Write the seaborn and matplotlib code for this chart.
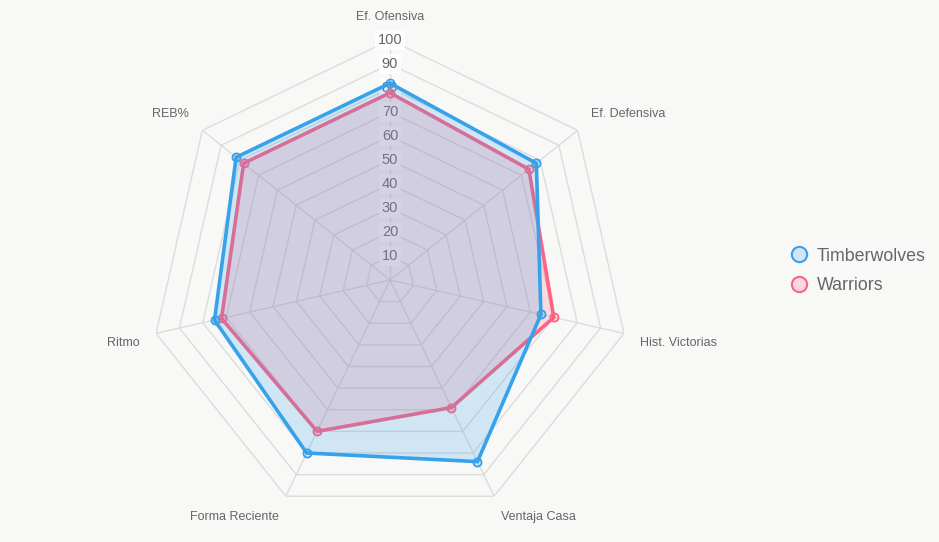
import numpy as np
import pandas as pd
import matplotlib
matplotlib.use("Agg")
from matplotlib import pyplot as plt
from matplotlib.lines import Line2D
import seaborn as sns

categories = ["Ef. Ofensiva", "Ef. Defensiva", "Hist. Victorias", "Ventaja Casa",
              "Forma Reciente", "Ritmo", "REB%"]
timberwolves = [82, 78, 64.5, 84, 80, 75, 82]
warriors = [78, 74, 70, 59, 70, 72, 78]
ticks = [10, 20, 30, 40, 50, 60, 70, 80, 90, 100]

sns.set_theme(style="white")
plt.rcParams['font.family'] = ['Liberation Sans', 'DejaVu Sans']

bg = "#f8f8f7"
blue = "#36a2eb"
pink = "#ff6384"

fig = plt.figure(figsize=(9.39, 5.42), dpi=100, facecolor=bg)
ax = fig.add_axes([150 / 939, 22 / 542, 480 / 939, 480 / 542], projection="polar")
ax.set_facecolor("none")
ax.set_theta_zero_location("N")
ax.set_theta_direction(-1)
ax.axis("off")
ax.set_ylim(0, 100)

n = len(categories)
theta = np.arange(n) * 2 * np.pi / n
theta_c = np.append(theta, theta[0])

# polygon grid + spokes
for t in ticks:
    ax.plot(theta_c, [t] * (n + 1), color="#dcdcdc", lw=1, zorder=1)
for th in theta:
    ax.plot([th, th], [0, 100], color="#dcdcdc", lw=1, zorder=1)

# tick labels with backdrop
for t in ticks:
    ax.text(0, t, str(t), ha="center", va="center", fontsize=10.5, color="#666666",
            zorder=2, bbox=dict(boxstyle="square,pad=0.2", fc="white", ec="none", alpha=0.85))

# category labels
for th, lab in zip(theta, categories):
    s, c = np.sin(th), np.cos(th)
    ha = "center" if abs(s) < 0.05 else ("left" if s > 0 else "right")
    va = "bottom" if c > 0.05 else "top"
    ax.text(th, 107, lab, ha=ha, va=va, fontsize=9, color="#666666", clip_on=False)

rows = []
for team, vals in [("Warriors", warriors), ("Timberwolves", timberwolves)]:
    for th, v in zip(theta, vals):
        rows.append({"team": team, "theta": th, "value": v})
df = pd.DataFrame(rows)

z = 3
for team, vals, col in [("Warriors", warriors, pink), ("Timberwolves", timberwolves, blue)]:
    vc = np.append(vals, vals[0])
    ax.fill(theta_c, vc, color=col, alpha=0.2, lw=0, zorder=z)
    ax.plot(theta_c, vc, color=col, lw=2.6, zorder=z + 1)
    sub = df[df.team == team]
    sns.scatterplot(data=sub, x="theta", y="value", ax=ax, s=34,
                    facecolor=matplotlib.colors.to_rgba(col, 0.2), edgecolor=col,
                    linewidth=1.3, zorder=z + 2, legend=False)
    z += 3

ax.set_xlabel("")
ax.set_ylabel("")
ax.axis("off")
ax.set_ylim(0, 100)

handles = [
    Line2D([], [], marker="o", ls="none", markersize=11, markeredgewidth=1.5,
           markerfacecolor=matplotlib.colors.to_rgba(blue, 0.2), markeredgecolor=blue),
    Line2D([], [], marker="o", ls="none", markersize=11, markeredgewidth=1.5,
           markerfacecolor=matplotlib.colors.to_rgba(pink, 0.2), markeredgecolor=pink),
]
fig.legend(handles, ["Timberwolves", "Warriors"], loc="center left",
           bbox_to_anchor=(772 / 939, 1 - 271 / 542), frameon=False, fontsize=12.8,
           labelcolor="#666666", handletextpad=0.42, labelspacing=0.73, handlelength=1.2)

fig.savefig("out.png", dpi=100, facecolor=bg)
